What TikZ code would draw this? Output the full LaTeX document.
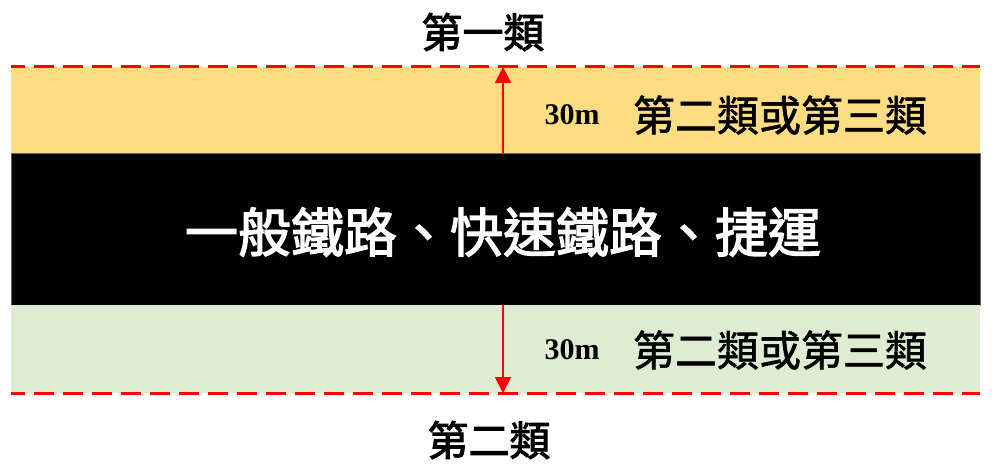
\documentclass[tikz,border=0pt]{standalone}
\usepackage{fontspec}
\setmainfont{Liberation Serif}
\newfontfamily\cjk{Noto Sans CJK TC}[FakeBold=1.4]
\newfontfamily\cjkheavy{Noto Sans CJK TC}[FakeBold=2.4]
\usetikzlibrary{positioning,arrows.meta}
\definecolor{zoneyellow}{RGB}{254,220,130}
\definecolor{zonegreen}{RGB}{222,236,209}

\begin{document}
\begin{tikzpicture}[x=1pt,y=1pt,
  zone/.style={minimum width=969pt, inner sep=0pt, outer sep=0pt},
  limit/.style={red, line width=3pt, dash pattern=on 20pt off 9pt, dash phase=6pt},
  dim/.style={red, line width=2pt, -{Triangle[length=16pt,width=16pt]}},
  tag/.style={font=\cjk\fontsize{42}{42}\selectfont, inner sep=0pt}]
\useasboundingbox (0,0) rectangle (992,463);
\node[zone, anchor=north west, fill=zoneyellow, minimum height=86pt] (Upper) at (11,396) {};
\node[zone, below=0pt of Upper, fill=black, draw=black!60, line width=0.6pt, minimum height=152pt] (Rail) {};
\node[zone, below=0pt of Rail, fill=zonegreen, minimum height=88pt] (Lower) {};
\draw[limit] (Upper.north west) -- (Upper.north east);
\draw[limit] (Lower.south west) -- (Lower.south east);
% 30m distance arrows
\draw[dim] ([xshift=7.5pt]Rail.north) -- ([xshift=7.5pt]Upper.north);
\draw[dim] ([xshift=7.5pt]Rail.south) -- ([xshift=7.5pt]Lower.south);
\node[font=\bfseries\fontsize{30}{30}\selectfont, inner sep=0pt] (UpperDist) at (572,348) {30m};
\node[tag] (UpperClass) at (780,348) {第二類或第三類};
\node[font=\bfseries\fontsize{30}{30}\selectfont, inner sep=0pt] (LowerDist) at (572,113) {30m};
\node[tag] (LowerClass) at (780,113) {第二類或第三類};
\node[font=\cjkheavy\fontsize{53}{53}\selectfont, text=white, inner sep=0pt] (RailName) at (503,231) {一般鐵路、快速鐵路、捷運};
\node[tag, font=\cjkheavy\fontsize{41}{41}\selectfont] (ClassOne) at (483,431) {第一類};
\node[tag, font=\cjkheavy\fontsize{41}{41}\selectfont] (ClassTwo) at (489,23) {第二類};
\end{tikzpicture}
\end{document}
